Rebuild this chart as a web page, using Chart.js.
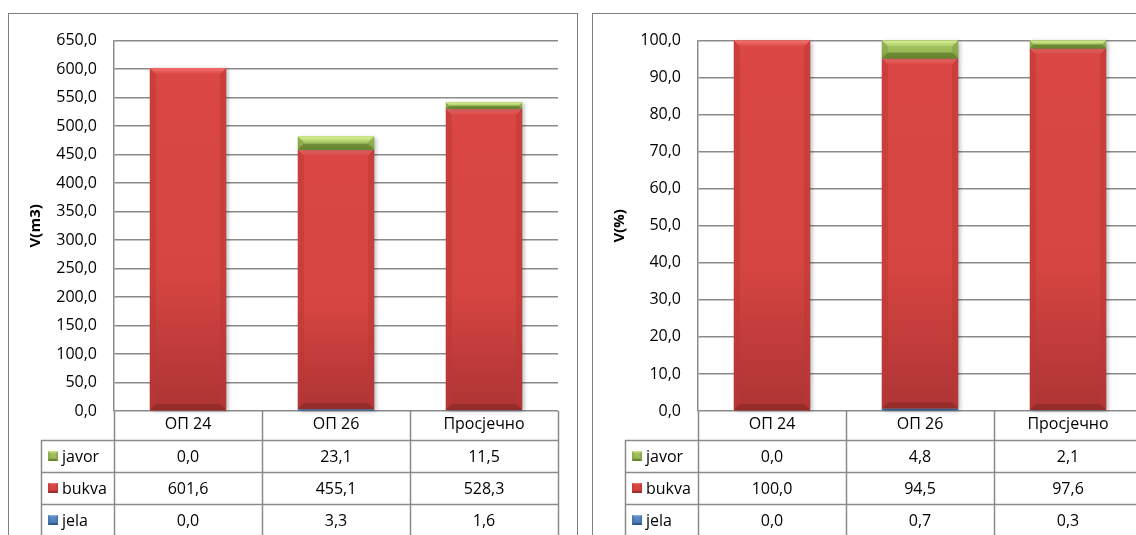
<!DOCTYPE html>
<html>
<head>
<meta charset="utf-8">
<script src="https://cdn.jsdelivr.net/npm/chart.js@4.4.1/dist/chart.umd.min.js"></script>
<style>
  html, body { margin: 0; padding: 0; background: #fff; width: 1136px; height: 535px; overflow: hidden; }
  .frame { position: absolute; top: 13px; width: 568px; height: 540px; border: 1px solid #7f7f7f; background: #fff; }
  #f1 { left: 8px; }
  #f2 { left: 592px; }
  .frame canvas { display: block; }
</style>
</head>
<body>
<div class="frame" id="f1"><canvas id="chart-m3" width="568" height="530"></canvas></div>
<div class="frame" id="f2"><canvas id="chart-pct" width="568" height="530"></canvas></div>

<script>
const categories = ['ОП 24', 'ОП 26', 'Просјечно'];

const jelaM3 = [0.0, 3.3, 1.6];
const bukvaM3 = [601.6, 455.1, 528.3];
const javorM3 = [0.0, 23.1, 11.5];

const jelaPct = [0.0, 0.7, 0.3];
const bukvaPct = [100.0, 94.5, 97.6];
const javorPct = [0.0, 4.8, 2.1];

const m3Max = 650, m3Step = 50;
const pctMax = 100, pctStep = 10;

const FONT = "'Open Sans', 'Noto Sans', sans-serif";
const LINE = '#8a8a8a';
const LW = 1.5;

const pal = {
  javor: { base: '#9BBB59', top: '#A8C866', bot: '#789A3C', hi: '#D6F08C', lo: '#5F7D2B', edge: '#7E9C44' },
  bukva: { base: '#D64541', top: '#DA4744', bot: '#AE3434', hi: '#F4726F', lo: '#8E2927', edge: '#B93835' },
  jela:  { base: '#4F81BD', top: '#5A8DCB', bot: '#3C679D', hi: '#93B8E4', lo: '#2E5180', edge: '#406C9F' }
};

const fmt = (v) => v.toFixed(1).replace('.', ',');

function poly(ctx, pts, color) {
  ctx.beginPath();
  ctx.moveTo(pts[0][0], pts[0][1]);
  pts.slice(1).forEach((p) => ctx.lineTo(p[0], p[1]));
  ctx.closePath();
  ctx.fillStyle = color;
  ctx.fill();
}

function bevelRect(ctx, x0, y0, x1, y1, p, bv, shadow) {
  const w = x1 - x0, h = y1 - y0;
  if (h < 0.5) return;
  const b = Math.min(bv, h / 2, w / 2);
  const g = ctx.createLinearGradient(0, y0, 0, y1);
  g.addColorStop(0, p.top);
  g.addColorStop(0.6, p.base);
  g.addColorStop(1, p.bot);
  ctx.save();
  if (shadow) {
    ctx.shadowColor = 'rgba(0,0,0,0.28)';
    ctx.shadowBlur = 4;
    ctx.shadowOffsetX = 2;
    ctx.shadowOffsetY = 1;
  }
  ctx.fillStyle = g;
  ctx.fillRect(x0, y0, w, h);
  ctx.restore();
  const hg = ctx.createLinearGradient(0, y0, 0, y0 + b);
  hg.addColorStop(0, p.hi);
  hg.addColorStop(1, p.top);
  poly(ctx, [[x0, y0], [x1, y0], [x1 - b, y0 + b], [x0 + b, y0 + b]], hg);
  ctx.globalAlpha = 0.5;
  poly(ctx, [[x1, y0], [x1, y1], [x1 - b, y1 - b], [x1 - b, y0 + b]], p.edge);
  poly(ctx, [[x0, y0], [x0, y1], [x0 + b, y1 - b], [x0 + b, y0 + b]], p.edge);
  ctx.globalAlpha = 0.75;
  poly(ctx, [[x0, y1], [x1, y1], [x1 - b, y1 - b], [x0 + b, y1 - b]], p.lo);
  ctx.globalAlpha = 1;
}

const bevelPlugin = {
  id: 'bevel',
  afterDatasetsDraw(chart) {
    const ctx = chart.ctx;
    ctx.save();
    chart.data.datasets.forEach((ds, di) => {
      const meta = chart.getDatasetMeta(di);
      meta.data.forEach((el) => {
        const { x, y, base, width } = el.getProps(['x', 'y', 'base', 'width'], true);
        bevelRect(ctx, x - width / 2, Math.min(y, base), x + width / 2, Math.max(y, base), pal[ds.label], 6, true);
      });
    });
    ctx.restore();
  }
};

function makeTable(rows) {
  return {
    id: 'dataTable',
    afterDraw(chart) {
      const { ctx, chartArea: a, scales: { x } } = chart;
      const rowH = 32, left = 32;
      const headBot = x.bottom;
      const bottom = headBot + rows.length * rowH;
      const cw = (a.right - a.left) / categories.length;
      ctx.save();
      ctx.strokeStyle = LINE;
      ctx.lineWidth = LW;
      ctx.beginPath();
      for (let r = 0; r <= rows.length; r++) {
        const y = Math.round(headBot + r * rowH) + 0.5;
        ctx.moveTo(left, y);
        ctx.lineTo(a.right, y);
      }
      ctx.moveTo(left + 0.5, headBot);
      ctx.lineTo(left + 0.5, bottom);
      for (let i = 0; i <= categories.length; i++) {
        const xx = Math.round(a.left + i * cw) + 0.5;
        ctx.moveTo(xx, a.bottom);
        ctx.lineTo(xx, bottom);
      }
      ctx.stroke();

      ctx.font = `16px ${FONT}`;
      ctx.textBaseline = 'middle';
      rows.forEach((row, r) => {
        const cy = headBot + r * rowH + rowH / 2;
        bevelRect(ctx, left + 7, cy - 5, left + 17, cy + 5, pal[row.name], 2, false);
        ctx.fillStyle = '#000';
        ctx.textAlign = 'left';
        ctx.fillText(row.name, left + 21, cy + 1);
        ctx.textAlign = 'center';
        row.values.forEach((v, i) => {
          ctx.fillText(fmt(v), a.left + (i + 0.5) * cw, cy + 1);
        });
      });
      ctx.restore();
    }
  };
}

function drawStack(canvasId, jela, bukva, javor, yMax, yStep, title) {
  const ctx = document.getElementById(canvasId);
  return new Chart(ctx, {
    type: 'bar',
    data: {
      labels: categories,
      datasets: [
        { label: 'jela', data: jela, backgroundColor: pal.jela.base },
        { label: 'bukva', data: bukva, backgroundColor: pal.bukva.base },
        { label: 'javor', data: javor, backgroundColor: pal.javor.base }
      ]
    },
    options: {
      responsive: false,
      animation: false,
      devicePixelRatio: 1,
      categoryPercentage: 1,
      barPercentage: 0.515,
      layout: { padding: { top: 26, right: 19, bottom: 104, left: 0 } },
      scales: {
        x: {
          stacked: true,
          grid: { display: false, drawTicks: false },
          border: { display: false },
          ticks: { color: '#000', font: { family: FONT, size: 16 }, padding: 4, maxRotation: 0, autoSkip: false },
          afterFit: (s) => { s.height = 29; }
        },
        y: {
          stacked: true,
          min: 0,
          max: yMax,
          grid: { color: LINE, lineWidth: LW, drawTicks: false },
          border: { color: LINE, width: LW },
          ticks: {
            stepSize: yStep,
            autoSkip: false,
            color: '#000',
            font: { family: FONT, size: 16 },
            padding: 17,
            callback: (v) => fmt(v)
          },
          title: {
            display: true,
            text: title,
            color: '#000',
            font: { family: FONT, size: 15, weight: 'bold' },
            padding: { top: 18, bottom: 0 }
          },
          afterFit: (s) => { s.width = 105; }
        }
      },
      plugins: {
        legend: { display: false },
        tooltip: { enabled: false }
      }
    },
    plugins: [bevelPlugin, makeTable([
      { name: 'javor', values: javor },
      { name: 'bukva', values: bukva },
      { name: 'jela', values: jela }
    ])]
  });
}

drawStack('chart-m3', jelaM3, bukvaM3, javorM3, m3Max, m3Step, 'V(m3)');
drawStack('chart-pct', jelaPct, bukvaPct, javorPct, pctMax, pctStep, 'V(%)');
</script>
</body>
</html>
